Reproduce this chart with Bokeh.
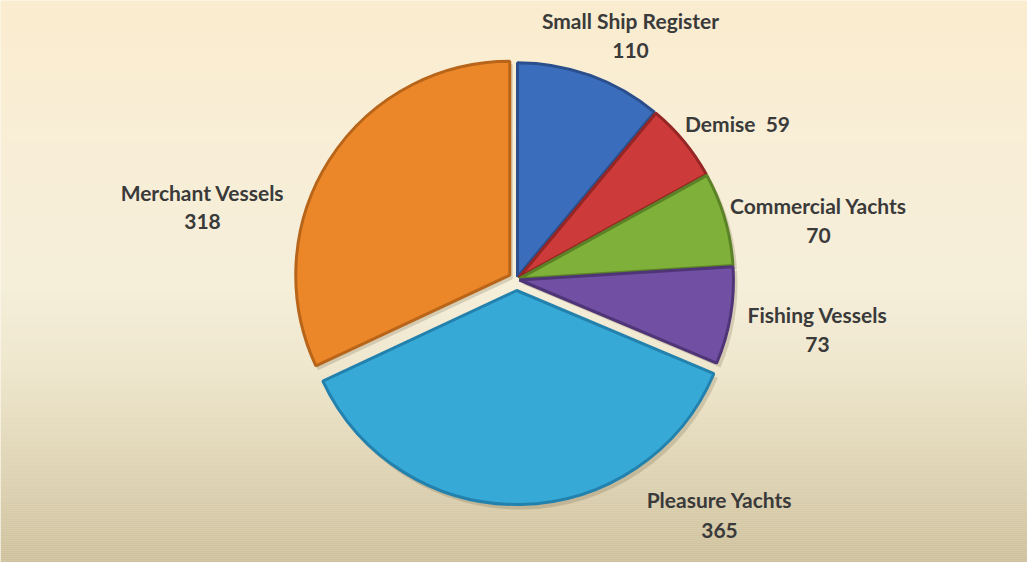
import numpy as np
from bokeh.plotting import figure
from bokeh.models import Range1d, ColumnDataSource
from bokeh.core.properties import value
from bokeh.embed import file_html
from bokeh.resources import INLINE

# ---- data ----
categories = ["Small Ship Register", "Demise", "Commercial Yachts",
              "Fishing Vessels", "Pleasure Yachts", "Merchant Vessels"]
counts = [110, 59, 70, 73, 365, 318]

# ---- style ----
colors = ["#3b6dbd", "#cc3a39", "#7eb03a", "#7150a4", "#37a9d6", "#ec8729"]
rims = ["#2a4f8c", "#962625", "#5b8226", "#4f3578", "#2382ad", "#b8651a"]
explode = [3, 3, 3, 3, 11, 8]
W, H = 1027, 562

def P(px, py):  # page pixel -> data coords
    return px - 8, 570 - py

cx, cy = P(524, 287)
R = 214

# label layout (page pixels)
label_pos = [(638, 28, 58), (745, 131, None), (826, 213, 243),
             (825, 322, 352), (727, 507, 538), (210, 200, 229)]

p = figure(width=W, height=H, x_range=Range1d(0, W), y_range=Range1d(0, H),
           output_backend="svg", toolbar_location=None, min_border=0)
p.axis.visible = False
p.grid.visible = False
p.outline_line_color = None
p.background_fill_color = "#f7efdc"
p.border_fill_color = "#ffffff"

# background gradient
stops_y = [8, 150, 300, 380, 480, 570]
stops_c = np.array([(251, 236, 206), (249, 239, 215), (245, 238, 217),
                    (238, 230, 204), (222, 211, 180), (206, 193, 157)])
ys = np.arange(8, 570, 2)
bg_colors = []
for yy in ys:
    c = [int(np.interp(yy + 1, stops_y, stops_c[:, k])) for k in range(3)]
    bg_colors.append("#%02x%02x%02x" % tuple(c))
p.quad(left=0, right=W, top=[570 - y for y in ys], bottom=[570 - y - 2.2 for y in ys],
       fill_color=bg_colors, line_color=None)

# pie geometry
total = float(sum(counts))
frac = np.array(counts) / total
cum = np.concatenate([[0], np.cumsum(frac)]) * 2 * np.pi  # clockwise from top
starts = np.pi / 2 - cum[1:]
ends = np.pi / 2 - cum[:-1]
mids = (starts + ends) / 2
xs = cx + np.array(explode) * np.cos(mids)
ys2 = cy + np.array(explode) * np.sin(mids)

src = ColumnDataSource(dict(x=xs, y=ys2, s=starts, e=ends, c=colors, r=rims,
                            sx=xs + 3, sy=ys2 - 4))
# shadow
p.wedge(x="sx", y="sy", radius=R + 1, start_angle="s", end_angle="e", source=src,
        fill_color="#6b5a3a", fill_alpha=0.22, line_color=None)
p.wedge(x="x", y="y", radius=R, start_angle="s", end_angle="e", source=src,
        fill_color="c", line_color="r", line_width=3)

font = value("Lato")
style = dict(text_font=font, text_font_style="bold", text_font_size="21px",
             text_color="#3a3a3a", text_align="center", text_baseline="middle")
for name, val, (lx, ly1, ly2) in zip(categories, counts, label_pos):
    if ly2 is None:
        X, Y = P(lx, ly1)
        p.text(x=[X], y=[Y], text=[f"{name}\u00a0\u00a0{val}"], **style)
    else:
        X, Y = P(lx, ly1)
        p.text(x=[X], y=[Y], text=[name], **style)
        X, Y = P(lx, ly2)
        p.text(x=[X], y=[Y], text=[str(val)], **style)

open("out.html", "w").write(file_html(p, INLINE))
